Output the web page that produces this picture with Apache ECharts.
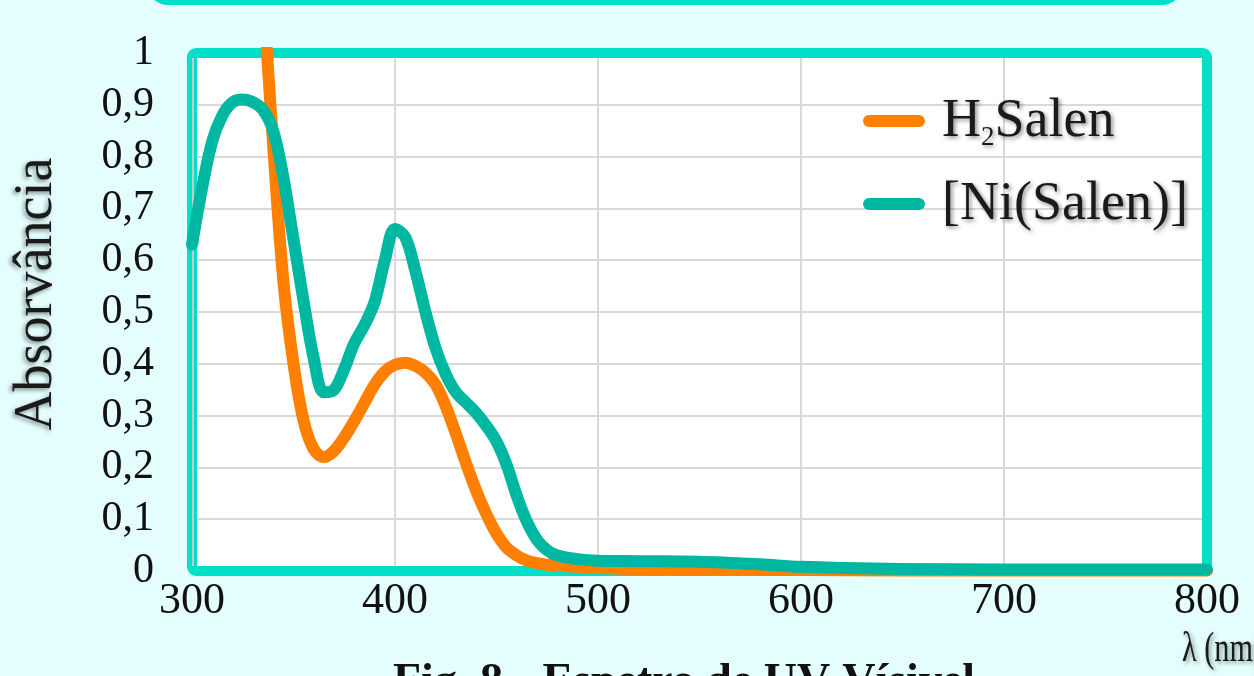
<!DOCTYPE html>
<html>
<head>
<meta charset="utf-8">
<script src="https://cdn.jsdelivr.net/npm/echarts@6/dist/echarts.min.js"></script>
<style>
html,body{margin:0;padding:0;background:#E3FEFC;}
#chart{width:1254px;height:676px;}
</style>
</head>
<body>
<div id="chart"></div>
<script>
const wavelength = [300,305,310,315,320,325,330,335,340,345,350,355,360,365,370,375,380,385,390,395,400,405,410,415,420,425,430,435,440,445,450,455,460,465,470,475,480,490,500,520,550,580,600,650,700,750,800];
const h2Salen = [null,null,null,null,null,null,1.42,1.12,0.82,0.56,0.40,0.29,0.235,0.22,0.232,0.258,0.29,0.325,0.36,0.385,0.398,0.402,0.396,0.383,0.36,0.318,0.265,0.208,0.155,0.11,0.072,0.045,0.03,0.02,0.015,0.012,0.01,0.008,0.006,0.004,0.003,0.002,0.002,0.001,0.001,0.001,0.001];
const niSalen = [0.63,0.74,0.83,0.88,0.905,0.91,0.905,0.89,0.85,0.76,0.64,0.52,0.41,0.345,0.35,0.39,0.44,0.475,0.52,0.60,0.66,0.645,0.58,0.50,0.43,0.38,0.345,0.325,0.305,0.28,0.25,0.205,0.145,0.095,0.06,0.04,0.03,0.023,0.02,0.019,0.018,0.013,0.008,0.004,0.003,0.003,0.003];
const seriesNames = ['H2Salen','[Ni(Salen)]'];
const xTicks = {min:300, max:800, interval:100};
const yTicks = {min:0, max:1, interval:0.1};

const serif = 'Liberation Serif';
const shadow = {textShadowColor:'rgba(0,0,0,0.45)', textShadowBlur:4, textShadowOffsetX:2, textShadowOffsetY:2};
const frameColor = '#00E0C8';
const bg = '#E3FEFC';

const chart = echarts.init(document.getElementById('chart'), null, {renderer:'canvas'});
chart.setOption({
  animation:false,
  backgroundColor:bg,
  title:[
    {text:'{b|Fig. 8} {r|– Espetro de UV-Vísivel}', left:388, top:655,
     textStyle:{rich:{
       b:{fontFamily:serif, fontSize:46, fontWeight:'bold', color:'#111'},
       r:{fontFamily:serif, fontSize:46, color:'#111'}
     }}}
  ],
  grid:{left:192, right:47, top:53, bottom:105, show:true, backgroundColor:'#ffffff',
        borderWidth:0, containLabel:false},
  legend:{
    orient:'vertical', left:858, top:78, itemGap:7,
    itemWidth:62, itemHeight:12,
    icon:'path://M6,0 H56 A6,6 0 0 1 56,12 H6 A6,6 0 0 1 6,0 Z',
    data:seriesNames,
    formatter:function(n){ return n==='H2Salen' ? '{a|H}{s|2}{a|Salen}' : '{a|'+n+'}'; },
    textStyle:{
      padding:[0,0,0,12],
      rich:{
        a:Object.assign({fontFamily:serif, fontSize:54, lineHeight:60, padding:[12,0,10,0], color:'#1a1a1a'}, shadow),
        s:Object.assign({fontFamily:serif, fontSize:27, verticalAlign:'bottom', color:'#1a1a1a'}, shadow)
      }
    }
  },
  xAxis:{
    type:'value', min:xTicks.min, max:xTicks.max, interval:xTicks.interval,
    axisLine:{show:false}, axisTick:{show:false},
    splitLine:{show:true, lineStyle:{color:'#d9d9d9', width:2}},
    axisLabel:{fontFamily:serif, fontSize:44, color:'#111', margin:8}
  },
  yAxis:{
    type:'value', min:yTicks.min, max:yTicks.max, interval:yTicks.interval,
    axisLine:{show:false}, axisTick:{show:false},
    splitLine:{show:true, lineStyle:{color:'#d9d9d9', width:2}},
    axisLabel:{fontFamily:serif, fontSize:42, color:'#111', margin:38,
      formatter:function(v){ return String(Math.round(v*10)/10).replace('.',','); }}
  },
  series:[
    {name:seriesNames[0], type:'line', z:3, data:wavelength.map((w,i)=>[w,h2Salen[i]]),
     showSymbol:false, smooth:0.35, color:'#FF8000',
     lineStyle:{color:'#FF8000', width:12, cap:'round', join:'round'}},
    {name:seriesNames[1], type:'line', z:4, data:wavelength.map((w,i)=>[w,niSalen[i]]),
     showSymbol:false, smooth:0.35, color:'#00B8A2',
     lineStyle:{color:'#00B8A2', width:12, cap:'round', join:'round'}}
  ]
});

// frame around the plot area, placed from the library's own scales
const tl = chart.convertToPixel({gridIndex:0}, [xTicks.min, yTicks.max]);
const br = chart.convertToPixel({gridIndex:0}, [xTicks.max, yTicks.min]);
chart.setOption({
  graphic:[
    {type:'rect', id:'topbox', z:-1,
     shape:{x:150, y:-40, width:1030, height:42, r:18},
     style:{fill:bg, stroke:frameColor, lineWidth:6}},
    {type:'rect', id:'frame', z:1, silent:true,
     shape:{x:tl[0], y:tl[1], width:br[0]-tl[0], height:br[1]-tl[1], r:4},
     style:{fill:'none', stroke:frameColor, lineWidth:10}},
    {type:'line', id:'yline', z:2, silent:true,
     shape:{x1:tl[0]+1, y1:tl[1]+5, x2:tl[0]+1, y2:br[1]-5},
     style:{stroke:'#c8c8c8', lineWidth:2}},
    {type:'text', id:'yname', z:5, x:37, y:294, rotation:Math.PI/2,
     style:{text:'Absorvância', font:'54px "Liberation Serif"', fill:'#1a1a1a',
       align:'center', verticalAlign:'middle',
       textShadowColor:'rgba(0,0,0,0.45)', textShadowBlur:4, textShadowOffsetX:-2, textShadowOffsetY:2}},
    {type:'text', id:'xname', z:5, x:1182, y:650, scaleX:0.72,
     style:Object.assign({text:'λ (nm)', font:'42px "Liberation Serif"', fill:'#1a1a1a',
       align:'left', verticalAlign:'middle'}, shadow)}
  ]
});
</script>
</body>
</html>
